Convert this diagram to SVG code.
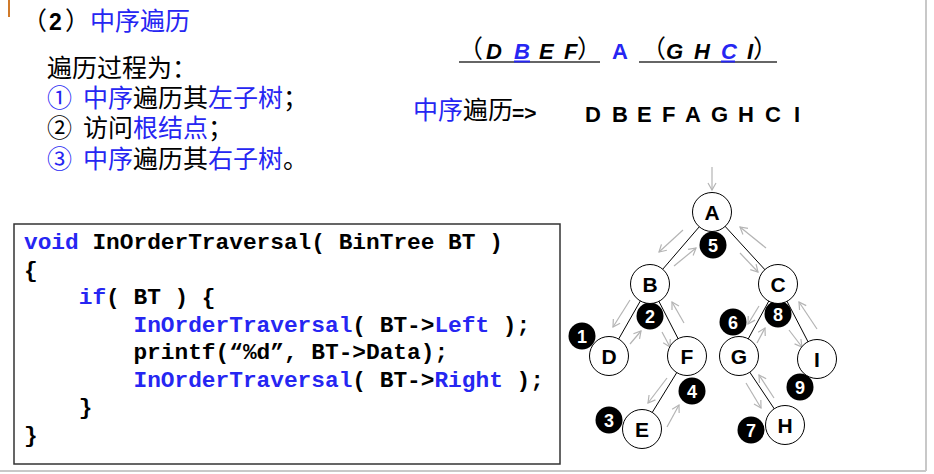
<svg xmlns="http://www.w3.org/2000/svg" width="934" height="474" viewBox="0 0 934 474">
<style>
.cjk{font-family:"Noto Sans CJK SC","Noto Sans",sans-serif;font-size:25px;fill:#000}
.b{fill:#2626f2}
.k{fill:#000}
.lat{font-family:"Liberation Sans",Arial,sans-serif;font-weight:bold}
.seq{font-family:"Liberation Sans",Arial,sans-serif;font-weight:bold;font-style:italic;font-size:22px}
.code{font-family:"Liberation Mono","Courier New",monospace;font-weight:bold;font-size:22.8px;fill:#000}
.node circle{fill:#fff;stroke:#000;stroke-width:1}
.node text{font-family:"Liberation Sans",Arial,sans-serif;font-weight:bold;font-size:21px;text-anchor:middle;fill:#000}
.num circle{fill:#000}
.num text{font-family:"Liberation Sans",Arial,sans-serif;font-weight:bold;font-size:18px;text-anchor:middle;fill:#fff}
.edge{stroke:#000;stroke-width:1;fill:none}
.trav{stroke:#b4b4b4;stroke-width:1.2;fill:none;marker-end:url(#ah)}
</style>
<defs>
<marker id="ah" markerUnits="userSpaceOnUse" markerWidth="12" markerHeight="12" refX="0" refY="0" viewBox="-9 -6 12 12" orient="auto">
<path d="M-7,-4 L0,0 L-7,4" fill="none" stroke="#b4b4b4" stroke-width="1.2"/>
</marker>
</defs>
<rect width="934" height="474" fill="#fff"/>
<line x1="9" y1="0" x2="9" y2="17" stroke="#d07a2a" stroke-width="2"/>
<line x1="926" y1="0" x2="926" y2="471" stroke="#c8c8c8" stroke-width="2"/>
<line x1="0" y1="471" x2="926" y2="471" stroke="#c8c8c8" stroke-width="2"/>

<g id="title">
<text class="cjk" x="22" y="30">（</text>
<text class="lat" x="49" y="30" font-size="23">2</text>
<text class="cjk" x="65" y="30">）</text>
<text class="cjk b" x="90" y="30">中序遍历</text>
</g>

<g id="steps">
<text class="cjk" x="47" y="77">遍历过程为：</text>
<text class="cjk" y="107"><tspan x="47" class="b">①</tspan><tspan x="83" class="b">中序</tspan><tspan class="k">遍历其</tspan><tspan class="b">左子树</tspan><tspan class="k">；</tspan></text>
<text class="cjk" y="137"><tspan x="47">②</tspan><tspan x="83">访问</tspan><tspan class="b">根结点</tspan><tspan class="k">；</tspan></text>
<text class="cjk" y="168"><tspan x="47" class="b">③</tspan><tspan x="83" class="b">中序</tspan><tspan class="k">遍历其</tspan><tspan class="b">右子树</tspan><tspan class="k">。</tspan></text>
</g>

<g id="split">
<line x1="459" y1="62" x2="600" y2="62" stroke="#333" stroke-width="1.5"/>
<line x1="639" y1="62" x2="777" y2="62" stroke="#333" stroke-width="1.5"/>
<line x1="514" y1="61.5" x2="530" y2="61.5" stroke="#2626f2" stroke-width="2"/>
<line x1="721" y1="61.5" x2="735" y2="61.5" stroke="#2626f2" stroke-width="2"/>
<text class="cjk" x="458" y="58" font-size="22">（</text>
<text class="seq" y="59"><tspan x="486">D</tspan><tspan x="514" class="b">B</tspan><tspan x="539">E</tspan><tspan x="564">F</tspan></text>
<text class="cjk" x="577" y="58" font-size="22">）</text>
<text class="lat b" x="612" y="59" font-size="22">A</text>
<text class="cjk" x="641" y="58" font-size="22">（</text>
<text class="seq" y="59"><tspan x="666">G</tspan><tspan x="694">H</tspan><tspan x="721" class="b">C</tspan><tspan x="747">I</tspan></text>
<text class="cjk" x="753" y="58" font-size="22">）</text>
</g>

<g id="result">
<text class="cjk" x="413" y="119" font-size="24"><tspan class="b">中序</tspan><tspan class="k">遍历</tspan></text>
<text class="lat" x="512" y="120" font-size="21">=&gt;</text>
<text class="lat" y="122" font-size="22"><tspan x="585">D</tspan><tspan x="612">B</tspan><tspan x="637">E</tspan><tspan x="662">F</tspan><tspan x="685">A</tspan><tspan x="711">G</tspan><tspan x="738">H</tspan><tspan x="765">C</tspan><tspan x="794">I</tspan></text>
</g>

<g id="code">
<rect x="14" y="224" width="546" height="240" fill="#fff" stroke="#333" stroke-width="1.5"/>
<text class="code" x="24" y="249" xml:space="preserve"><tspan class="b">void</tspan> InOrderTraversal( BinTree BT )</text>
<text class="code" x="24" y="276.5">{</text>
<text class="code" x="24" y="304" xml:space="preserve">    <tspan class="b">if</tspan>( BT ) {</text>
<text class="code" x="24" y="331.5" xml:space="preserve">        <tspan class="b">InOrderTraversal</tspan>( BT-&gt;<tspan class="b">Left</tspan> );</text>
<text class="code" x="24" y="359" xml:space="preserve">        printf(“%d”, BT-&gt;Data);</text>
<text class="code" x="24" y="386.5" xml:space="preserve">        <tspan class="b">InOrderTraversal</tspan>( BT-&gt;<tspan class="b">Right</tspan> );</text>
<text class="code" x="24" y="414" xml:space="preserve">    }</text>
<text class="code" x="24" y="441.5">}</text>
</g>

<g id="connectors">
<line class="edge" x1="699.6" y1="226.4" x2="662.4" y2="269.6"/>
<line class="edge" x1="724.8" y1="226" x2="765.2" y2="270"/>
<line class="edge" x1="640.6" y1="300.5" x2="618.4" y2="339.5"/>
<line class="edge" x1="658.7" y1="300.9" x2="678.3" y2="339.1"/>
<line class="edge" x1="769" y1="300.7" x2="748" y2="339.3"/>
<line class="edge" x1="786.8" y1="300.9" x2="808.2" y2="342.1"/>
<line class="edge" x1="677" y1="372.2" x2="652" y2="412.8"/>
<line class="edge" x1="749.5" y1="371.8" x2="774.5" y2="409.2"/>
<line class="trav" x1="712" y1="167" x2="712" y2="190"/>
<line class="trav" x1="683" y1="230" x2="659" y2="252"/>
<line class="trav" x1="674" y1="266" x2="696" y2="248"/>
<line class="trav" x1="740" y1="253" x2="758" y2="272"/>
<line class="trav" x1="766" y1="248" x2="740" y2="227"/>
<line class="trav" x1="630" y1="300" x2="613" y2="327"/>
<line class="trav" x1="630" y1="344" x2="641" y2="331"/>
<line class="trav" x1="662" y1="332" x2="670" y2="347"/>
<line class="trav" x1="684" y1="323" x2="672" y2="302"/>
<line class="trav" x1="667" y1="378" x2="648" y2="403"/>
<line class="trav" x1="667" y1="427" x2="679" y2="405"/>
<line class="trav" x1="759" y1="306" x2="748" y2="324"/>
<line class="trav" x1="757" y1="343" x2="765" y2="328"/>
<line class="trav" x1="789" y1="330" x2="802" y2="347"/>
<line class="trav" x1="817" y1="329" x2="799" y2="302"/>
<line class="trav" x1="746" y1="383" x2="761" y2="408"/>
<line class="trav" x1="774" y1="398" x2="759" y2="375"/>
</g>

<g id="order-marks">
<g id="n1" class="num"><circle cx="582" cy="336" r="13.5"/><text x="582" y="342.5">1</text></g>
<g id="n2" class="num"><circle cx="650" cy="316" r="13.5"/><text x="650" y="322.5">2</text></g>
<g id="n3" class="num"><circle cx="609" cy="420" r="13.5"/><text x="609" y="426.5">3</text></g>
<g id="n4" class="num"><circle cx="692" cy="391" r="13.5"/><text x="692" y="397.5">4</text></g>
<g id="n5" class="num"><circle cx="713" cy="245" r="13.5"/><text x="713" y="251.5">5</text></g>
<g id="n6" class="num"><circle cx="733" cy="322" r="13.5"/><text x="733" y="328.5">6</text></g>
<g id="n7" class="num"><circle cx="751" cy="430" r="13.5"/><text x="751" y="436.5">7</text></g>
<g id="n8" class="num"><circle cx="778" cy="314" r="13.5"/><text x="778" y="320.5">8</text></g>
<g id="n9" class="num"><circle cx="800" cy="387" r="13.5"/><text x="800" y="393.5">9</text></g>
</g>

<g id="node-A" class="node"><circle cx="712" cy="212" r="19.5"/><text x="712" y="219.5">A</text></g>
<g id="node-B" class="node"><circle cx="650" cy="284" r="19.5"/><text x="650" y="291.5">B</text></g>
<g id="node-C" class="node"><circle cx="778" cy="284" r="19.5"/><text x="778" y="291.5">C</text></g>
<g id="node-D" class="node"><circle cx="609" cy="356" r="19.5"/><text x="609" y="363.5">D</text></g>
<g id="node-F" class="node"><circle cx="687" cy="356" r="19.5"/><text x="687" y="363.5">F</text></g>
<g id="node-G" class="node"><circle cx="739" cy="356" r="19.5"/><text x="739" y="363.5">G</text></g>
<g id="node-I" class="node"><circle cx="817" cy="359" r="19.5"/><text x="817" y="366.5">I</text></g>
<g id="node-E" class="node"><circle cx="642" cy="429" r="19.5"/><text x="642" y="436.5">E</text></g>
<g id="node-H" class="node"><circle cx="785" cy="425" r="19.5"/><text x="785" y="432.5">H</text></g>
</svg>
